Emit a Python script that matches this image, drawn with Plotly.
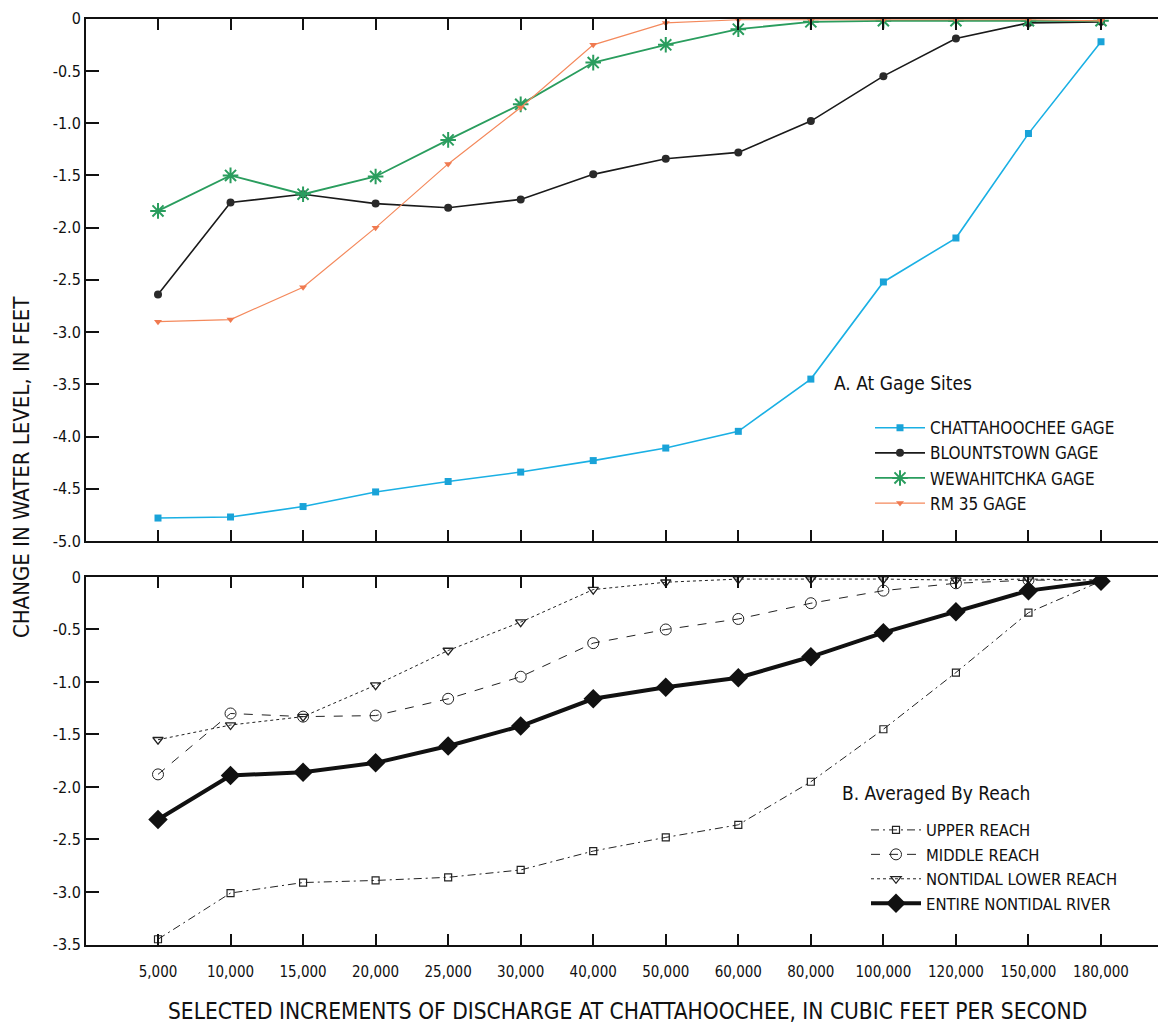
import plotly.graph_objects as go

categories = ["5,000", "10,000", "15,000", "20,000", "25,000", "30,000", "40,000",
              "50,000", "60,000", "80,000", "100,000", "120,000", "150,000", "180,000"]

# Panel A: at gage sites (change in water level, feet)
chattahoochee = [-4.78, -4.77, -4.67, -4.53, -4.43, -4.34, -4.23, -4.11, -3.95, -3.45, -2.52, -2.10, -1.10, -0.22]
blountstown = [-2.64, -1.76, -1.68, -1.77, -1.81, -1.73, -1.49, -1.34, -1.28, -0.98, -0.55, -0.19, -0.04, -0.03]
wewahitchka = [-1.84, -1.50, -1.68, -1.51, -1.16, -0.82, -0.42, -0.25, -0.10, -0.03, -0.02, -0.02, -0.02, -0.02]
rm35 = [-2.90, -2.88, -2.57, -2.00, -1.39, -0.85, -0.25, -0.04, -0.01, -0.01, -0.01, -0.01, -0.01, -0.02]

# Panel B: averaged by reach
upper_reach = [-3.45, -3.01, -2.91, -2.89, -2.86, -2.79, -2.61, -2.48, -2.36, -1.95, -1.45, -0.91, -0.34, -0.04]
middle_reach = [-1.88, -1.30, -1.33, -1.32, -1.16, -0.95, -0.63, -0.50, -0.40, -0.25, -0.13, -0.06, -0.03, -0.03]
lower_reach = [-1.55, -1.41, -1.33, -1.03, -0.70, -0.43, -0.12, -0.05, -0.02, -0.02, -0.02, -0.03, -0.02, -0.03]
entire_river = [-2.31, -1.89, -1.86, -1.77, -1.61, -1.42, -1.16, -1.05, -0.96, -0.76, -0.53, -0.33, -0.13, -0.04]

top_ticks = [0, -0.5, -1.0, -1.5, -2.0, -2.5, -3.0, -3.5, -4.0, -4.5, -5.0]
top_ticktext = ["0", "-0.5", "-1.0", "-1.5", "-2.0", "-2.5", "-3.0", "-3.5", "-4.0", "-4.5", "-5.0"]
bot_ticks = [0, -0.5, -1.0, -1.5, -2.0, -2.5, -3.0, -3.5]
bot_ticktext = ["0", "-0.5", "-1.0", "-1.5", "-2.0", "-2.5", "-3.0", "-3.5"]

FONT = "Liberation Sans Narrow, DejaVu Sans Condensed, Roboto Condensed, Arial Narrow, sans-serif"


def px_x(p):
    return (p - 8) / 1166


def px_y(p):
    return 1 - (p - 16.3) / 1007.3


fig = go.Figure()

# Panel A traces
fig.add_trace(go.Scatter(x=categories, y=chattahoochee, name="CHATTAHOOCHEE GAGE", mode="lines+markers",
                         line=dict(color="#1ab0e4", width=1.6),
                         marker=dict(symbol="square", size=7, color="#1aa3d8"),
                         xaxis="x", yaxis="y", legend="legend"))
fig.add_trace(go.Scatter(x=categories, y=blountstown, name="BLOUNTSTOWN GAGE", mode="lines+markers",
                         line=dict(color="#1a1a1a", width=1.6),
                         marker=dict(symbol="circle", size=8, color="#2a2a2a"),
                         xaxis="x", yaxis="y", legend="legend"))
fig.add_trace(go.Scatter(x=categories, y=wewahitchka, name="WEWAHITCHKA GAGE", mode="lines+markers",
                         line=dict(color="#2a9d5e", width=1.8),
                         marker=dict(symbol="asterisk-open", size=13, color="#2a9d5e",
                                     line=dict(width=2, color="#2a9d5e")),
                         xaxis="x", yaxis="y", legend="legend"))
fig.add_trace(go.Scatter(x=categories, y=rm35, name="RM 35 GAGE", mode="lines+markers",
                         line=dict(color="#f4895c", width=1.2),
                         marker=dict(symbol="triangle-down", size=7, color="#f07a50"),
                         xaxis="x", yaxis="y", legend="legend"))

# Panel B traces
fig.add_trace(go.Scatter(x=categories, y=upper_reach, name="UPPER REACH", mode="lines+markers",
                         line=dict(color="#222222", width=1, dash="8px,4px,2px,4px"),
                         marker=dict(symbol="square-open", size=7, color="#222222", line=dict(width=1.2)),
                         xaxis="x2", yaxis="y2", legend="legend2"))
fig.add_trace(go.Scatter(x=categories, y=middle_reach, name="MIDDLE REACH", mode="lines+markers",
                         line=dict(color="#222222", width=1, dash="dash"),
                         marker=dict(symbol="circle-open", size=11, color="#222222", line=dict(width=1)),
                         xaxis="x2", yaxis="y2", legend="legend2"))
fig.add_trace(go.Scatter(x=categories, y=lower_reach, name="NONTIDAL LOWER REACH", mode="lines+markers",
                         line=dict(color="#222222", width=1, dash="dot"),
                         marker=dict(symbol="triangle-down-open", size=9, color="#222222", line=dict(width=1.3)),
                         xaxis="x2", yaxis="y2", legend="legend2"))
fig.add_trace(go.Scatter(x=categories, y=entire_river, name="ENTIRE NONTIDAL RIVER", mode="lines+markers",
                         line=dict(color="#111111", width=4),
                         marker=dict(symbol="diamond", size=15, color="#111111"),
                         xaxis="x2", yaxis="y2", legend="legend2"))

xdom = [px_x(86), px_x(1166)]
xrange = [-0.9925, 13.896]
axis_common = dict(showgrid=False, zeroline=False, showline=True, linecolor="#111111", linewidth=2,
                   ticks="inside", ticklen=11, tickcolor="#111111", tickwidth=1.5)
yaxis_common = dict(ticks="inside", ticklen=13, tickcolor="#111111", tickwidth=1.5, showgrid=False,
                    zeroline=False, showline=True, linecolor="#111111", linewidth=2,
                    tickfont=dict(size=16))

fig.update_layout(
    width=1166, height=1025,
    margin=dict(l=0, r=0, t=0, b=0),
    paper_bgcolor="white", plot_bgcolor="white",
    font=dict(family=FONT, color="#111111", size=15),
    xaxis=dict(domain=xdom, anchor="y", range=xrange, type="category", showticklabels=False,
               mirror="ticks", **axis_common),
    yaxis=dict(domain=[px_y(541), px_y(18)], anchor="x", range=[-5.0, 0.0],
               tickvals=top_ticks, ticktext=top_ticktext, **yaxis_common),
    xaxis2=dict(domain=xdom, anchor="y2", range=xrange, type="category", showticklabels=True,
                tickfont=dict(size=15), ticklabelstandoff=12, mirror="ticks", **axis_common),
    yaxis2=dict(domain=[px_y(945), px_y(577)], anchor="x2", range=[-3.5, 0.0],
                tickvals=bot_ticks, ticktext=bot_ticktext, **yaxis_common),
    yaxis3=dict(overlaying="y", side="right", anchor="x", range=[-5.0, 0.0], tickvals=top_ticks,
                showticklabels=False, ticks="inside", ticklen=8, tickcolor="#111111",
                showgrid=False, zeroline=False, showline=False),
    yaxis4=dict(overlaying="y2", side="right", anchor="x2", range=[-3.5, 0.0], tickvals=bot_ticks,
                showticklabels=False, ticks="inside", ticklen=8, tickcolor="#111111",
                showgrid=False, zeroline=False, showline=False),
    legend=dict(x=px_x(870), y=px_y(410), xanchor="left", yanchor="top", itemwidth=50,
                bgcolor="rgba(255,255,255,0)", font=dict(size=17), tracegroupgap=0),
    legend2=dict(x=px_x(866), y=px_y(813), xanchor="left", yanchor="top", itemwidth=50,
                 bgcolor="rgba(255,255,255,0)", font=dict(size=16.5), tracegroupgap=0),
    annotations=[
        dict(text="CHANGE IN WATER LEVEL, IN FEET", xref="paper", yref="paper",
             x=px_x(21), y=px_y(467), textangle=-90, showarrow=False,
             font=dict(size=22), xanchor="center", yanchor="middle"),
        dict(text="SELECTED INCREMENTS OF DISCHARGE AT CHATTAHOOCHEE, IN CUBIC FEET PER SECOND",
             xref="paper", yref="paper", x=px_x(627), y=px_y(1012), showarrow=False,
             font=dict(size=22.5), xanchor="center", yanchor="middle"),
        dict(text="A. At Gage Sites", xref="paper", yref="paper",
             x=px_x(832), y=px_y(383), showarrow=False,
             font=dict(size=19), xanchor="left", yanchor="middle"),
        dict(text="B. Averaged By Reach", xref="paper", yref="paper",
             x=px_x(840), y=px_y(793), showarrow=False,
             font=dict(size=19), xanchor="left", yanchor="middle"),
    ],
    showlegend=True,
)

fig.write_html("out.html")
